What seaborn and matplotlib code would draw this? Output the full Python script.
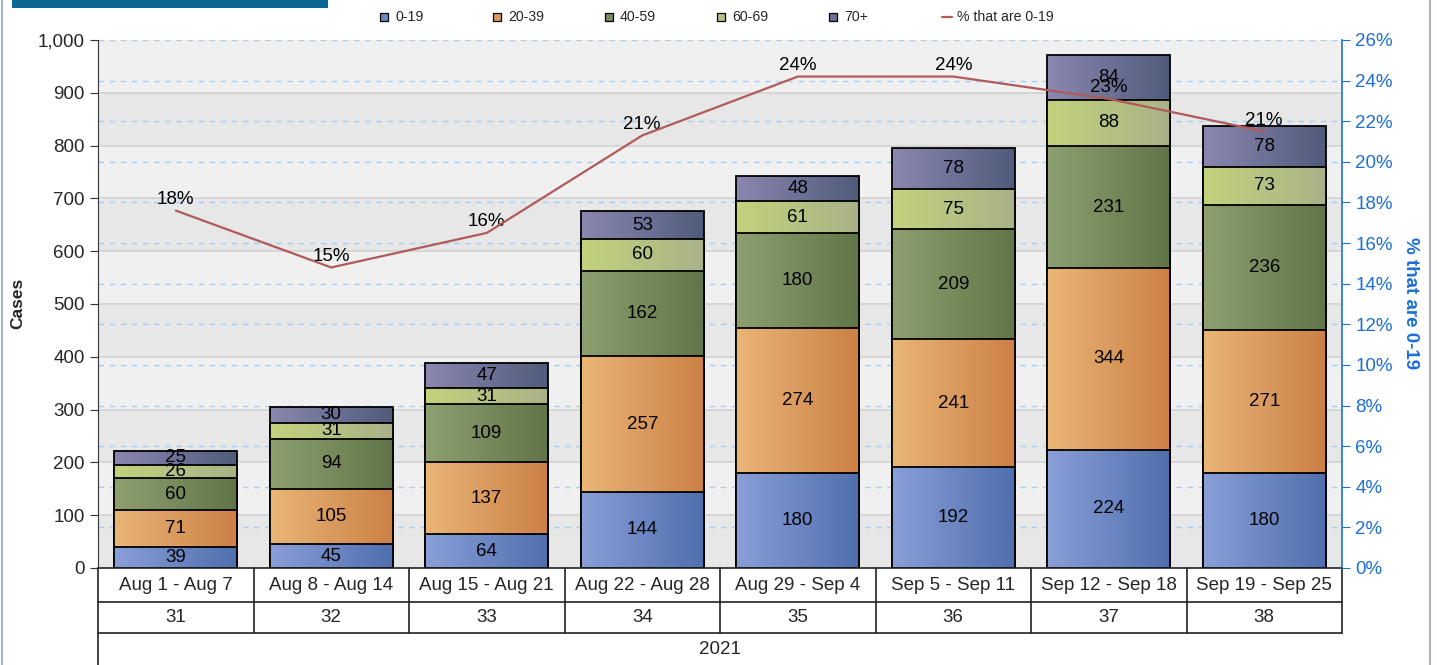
import numpy as np
import pandas as pd
import matplotlib
matplotlib.use('Agg')
import matplotlib.pyplot as plt
import seaborn as sns
from matplotlib.patches import Rectangle
from matplotlib.lines import Line2D
from matplotlib.colors import LinearSegmentedColormap

# Data.
weeks = ['Aug 1 - Aug 7', 'Aug 8 - Aug 14', 'Aug 15 - Aug 21', 'Aug 22 - Aug 28',
         'Aug 29 - Sep 4', 'Sep 5 - Sep 11', 'Sep 12 - Sep 18', 'Sep 19 - Sep 25']
week_numbers = ['31', '32', '33', '34', '35', '36', '37', '38']
year_label = '2021'
age_groups = ['0-19', '20-39', '40-59', '60-69', '70+']
cases_0_19 = [39, 45, 64, 144, 180, 192, 224, 180]
cases_20_39 = [71, 105, 137, 257, 274, 241, 344, 271]
cases_40_59 = [60, 94, 109, 162, 180, 209, 231, 236]
cases_60_69 = [26, 31, 31, 60, 61, 75, 88, 73]
cases_70_plus = [25, 30, 47, 53, 48, 78, 84, 78]
pct_0_19 = [17.6, 14.8, 16.5, 21.3, 24.2, 24.2, 23.1, 21.5]
pct_labels = ['18%', '15%', '16%', '21%', '24%', '24%', '23%', '21%']
left_ticks = [0, 100, 200, 300, 400, 500, 600, 700, 800, 900, 1000]
right_ticks = [0, 2, 4, 6, 8, 10, 12, 14, 16, 18, 20, 22, 24, 26]

# Gradient colours for each age group (left -> right).
grad_colors = {
    '0-19': ('#8a9fd8', '#4f6fae'),
    '20-39': ('#e9b676', '#cc8046'),
    '40-59': ('#8ea070', '#627548'),
    '60-69': ('#c3d27c', '#a9b288'),
    '70+': ('#8b87b0', '#505c7c'),
}
mid_colors = {'0-19': '#6d87c3', '20-39': '#db9b5e', '40-59': '#788b5c',
              '60-69': '#b6c282', '70+': '#6e7196'}
line_color = '#b05a5a'
blue = '#1c6fd4'
fs = 13.5

sns.set_style('ticks')
plt.rcParams['font.family'] = ['Liberation Sans', 'DejaVu Sans']

df = pd.DataFrame({'week': weeks, '0-19': cases_0_19, '20-39': cases_20_39,
                   '40-59': cases_40_59, '60-69': cases_60_69, '70+': cases_70_plus})
stack = df[age_groups].cumsum(axis=1)

W, H = 1437, 665
fig = plt.figure(figsize=(W / 100, H / 100), dpi=100)
ax = fig.add_axes([98 / W, 97 / H, 1244 / W, 528 / H])
ax.set_facecolor('white')

# Alternating background bands and grid lines.
for i in range(10):
    ax.axhspan(i * 100, (i + 1) * 100, color='#e7e7e7' if i % 2 == 0 else '#f0f0f0',
               zorder=0, lw=0)
for v in left_ticks[1:-1]:
    ax.axhline(v, color='#d2d2d2', lw=1.2, zorder=0.5)
for t in right_ticks[1:]:
    ax.axhline(t / 26 * 1000, color='#a6cdf5', lw=1, ls=(0, (4, 4)), zorder=0.6)

# Stacked bars: draw the cumulative totals from the top layer down.
grad = np.linspace(0, 1, 256).reshape(1, -1)
for k in reversed(range(len(age_groups))):
    group = age_groups[k]
    n_before = len(ax.patches)
    sns.barplot(x=weeks, y=stack[group].values, ax=ax, order=weeks, width=0.79,
                color=mid_colors[group], saturation=1)
    cmap = LinearSegmentedColormap.from_list(group, grad_colors[group])
    z = 2 + (4 - k) * 2
    for p in ax.patches[n_before:]:
        p.set_facecolor('none')
        p.set_edgecolor('black')
        p.set_linewidth(1.3)
        p.set_zorder(z + 1)
        x0, w, h = p.get_x(), p.get_width(), p.get_height()
        im = ax.imshow(grad, cmap=cmap, extent=(x0, x0 + w, 0, h), aspect='auto',
                       interpolation='bilinear', zorder=z)
        im.set_clip_path(p)

# Segment value labels.
for k, group in enumerate(age_groups):
    for i in range(len(weeks)):
        val = df[group][i]
        top = stack[group][i]
        ax.text(i, top - val / 2, str(val), ha='center', va='center',
                fontsize=fs, color='black', zorder=30)

ax.set_xlim(-0.5, len(weeks) - 0.5)
ax.set_ylim(0, 1000)
ax.set_yticks(left_ticks)
ax.set_yticklabels([f'{v:,}' for v in left_ticks], fontsize=fs)
ax.set_xticks([])
ax.set_xlabel('')
ax.set_ylabel('')
ax.tick_params(axis='y', direction='out', length=6, color='#333333')
for s in ['top', 'right', 'bottom']:
    ax.spines[s].set_visible(False)
ax.spines['left'].set_color('#333333')

# Secondary axis with the percentage line.
ax2 = ax.twinx()
ax2.plot(range(len(weeks)), pct_0_19, color=line_color, lw=1.6, zorder=5)
for i, (v, lab) in enumerate(zip(pct_0_19, pct_labels)):
    ax2.annotate(lab, (i, v), xytext=(0, 8), textcoords='offset points',
                 ha='center', va='center', fontsize=fs, color='black')
ax2.set_ylim(0, 26)
ax2.set_yticks(right_ticks)
ax2.set_yticklabels([f'{t}%' for t in right_ticks], fontsize=fs, color=blue)
ax2.tick_params(axis='y', direction='out', length=6, color=blue)
for s in ['top', 'left', 'bottom']:
    ax2.spines[s].set_visible(False)
ax2.spines['right'].set_color(blue)
ax2.spines['right'].set_linewidth(1.2)
ax2.set_xlim(-0.5, len(weeks) - 0.5)

# Category table under the plot.
tr = ax.get_xaxis_transform()
row1, row2 = -34 / 528, -65 / 528
for y in [0, row1, row2]:
    ax.plot([-0.5, len(weeks) - 0.5], [y, y], color='#222222', lw=1.2,
            transform=tr, clip_on=False, zorder=40)
for i in range(1, len(weeks) + 1):
    ax.plot([i - 0.5, i - 0.5], [0, row2], color='#222222', lw=1.2,
            transform=tr, clip_on=False, zorder=40)
ax.plot([-0.5, -0.5], [0, -100 / 528], color='#222222', lw=1.2,
        transform=tr, clip_on=False, zorder=40)
for i, (w, n) in enumerate(zip(weeks, week_numbers)):
    ax.text(i, row1 / 2, w, transform=tr, ha='center', va='center', fontsize=fs)
    ax.text(i, (row1 + row2) / 2, n, transform=tr, ha='center', va='center', fontsize=fs)
ax.text(0.5, -81 / 528, year_label, transform=ax.transAxes, ha='center', va='center',
        fontsize=fs)

# Axis titles.
fig.text(18 / W, 1 - 303 / H, 'Cases', rotation=90, ha='center', va='center',
         fontsize=12.5, fontweight='bold')
fig.text(1410 / W, 1 - 303 / H, '% that are 0-19', rotation=270, ha='center',
         va='center', fontsize=fs, fontweight='bold', color=blue)

# Legend, laid out as evenly spaced entries across the top.
legend_x = [380, 493, 605, 717, 829]
legend_y = 1 - 17 / H
for x, g in zip(legend_x, age_groups):
    fig.add_artist(Rectangle((x / W, legend_y - 4 / H), 8 / W, 8 / H,
                             transform=fig.transFigure, facecolor=mid_colors[g],
                             edgecolor='black', lw=0.9))
    fig.text((x + 15) / W, legend_y, g, ha='left', va='center', fontsize=10.2)
fig.add_artist(Line2D([942 / W, 952 / W], [legend_y, legend_y],
                      transform=fig.transFigure, color=line_color, lw=1.6))
fig.text(957 / W, legend_y, '% that are 0-19', ha='left', va='center', fontsize=10.2)

# Title bar remnant and frame lines.
fig.add_artist(Rectangle((12 / W, 1 - 8 / H), 316 / W, 8 / H,
                         transform=fig.transFigure, color='#0b6890', lw=0))
fig.add_artist(Line2D([2 / W, 2 / W], [0, 1], transform=fig.transFigure,
                      color='#8aa4bf', lw=1.2))
fig.add_artist(Line2D([1430 / W, 1430 / W], [0, 1], transform=fig.transFigure,
                      color='#8aa4bf', lw=1.2))

fig.savefig('out.png', dpi=100)
